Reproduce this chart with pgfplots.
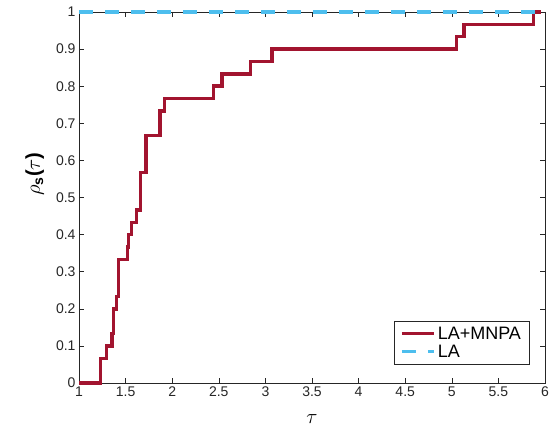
\documentclass[border=0pt]{standalone}
\usepackage{pgfplots}
\pgfplotsset{compat=1.18}
\usepackage{amsmath}
\usepackage{fontspec}
\setmainfont{Liberation Sans}
\setsansfont{Liberation Sans}

\definecolor{mred}{RGB}{162,20,47}
\definecolor{mcyan}{RGB}{77,190,238}
\definecolor{axgray}{RGB}{38,38,38}

\begin{document}
\begin{tikzpicture}
\begin{axis}[
  scale only axis,
  width=466pt, height=371pt,
  xmin=1, xmax=6, ymin=0, ymax=1,
  clip=false,
  xtick={1,1.5,2,2.5,3,3.5,4,4.5,5,5.5,6},
  ytick={0,0.1,0.2,0.3,0.4,0.5,0.6,0.7,0.8,0.9,1},
  xticklabels={1,1.5,2,2.5,3,3.5,4,4.5,5,5.5,6},
  yticklabels={0,0.1,0.2,0.3,0.4,0.5,0.6,0.7,0.8,0.9,1},
  tick pos=both, tick align=inside,
  major tick length=5pt,
  axis line style={axgray, line width=0.6pt},
  major tick style={axgray, line width=0.6pt},
  tick label style={font=\fontsize{14}{15}\selectfont, text=axgray},
  xlabel={\fontsize{20}{22}\selectfont$\tau$},
  ylabel={\fontsize{20}{22}\selectfont$\rho_{\textbf{s}}$\textbf{(}$\tau$\textbf{)}},
  xlabel style={yshift=-11pt},
  ylabel style={at={(ticklabel cs:0.563)}, yshift=5pt},
  legend style={at={(0.966,0.049)}, anchor=south east, draw=axgray,
    font=\fontsize{18}{20}\selectfont, inner xsep=6pt, inner ysep=4pt},
  legend image post style={xscale=1.88},
  legend cell align=left,
]
\addplot[const plot, mred, line width=3.4pt] coordinates {
(1.000,0) (1.233,0.0667) (1.297,0.1) (1.354,0.1333) (1.368,0.2)
(1.400,0.2333) (1.425,0.3333) (1.518,0.3667) (1.533,0.4) (1.565,0.4333)
(1.620,0.4667) (1.660,0.5667) (1.720,0.6667) (1.870,0.7333) (1.920,0.7667)
(2.440,0.8) (2.535,0.8333) (2.840,0.8667) (3.070,0.9) (5.050,0.9333)
(5.130,0.9667) (5.875,1.0) (5.960,1.0)
};
\addlegendentry{LA+MNPA}
\addplot[mcyan, line width=3.4pt, dash pattern=on 14pt off 12pt] coordinates {
(1,1) (6,1)
};
\addlegendentry{LA}
\end{axis}
\pgfresetboundingbox
\path ([shift={(-79pt,-43pt)}]current axis.south west) rectangle ([shift={(8pt,12pt)}]current axis.north east);
\end{tikzpicture}
\end{document}
